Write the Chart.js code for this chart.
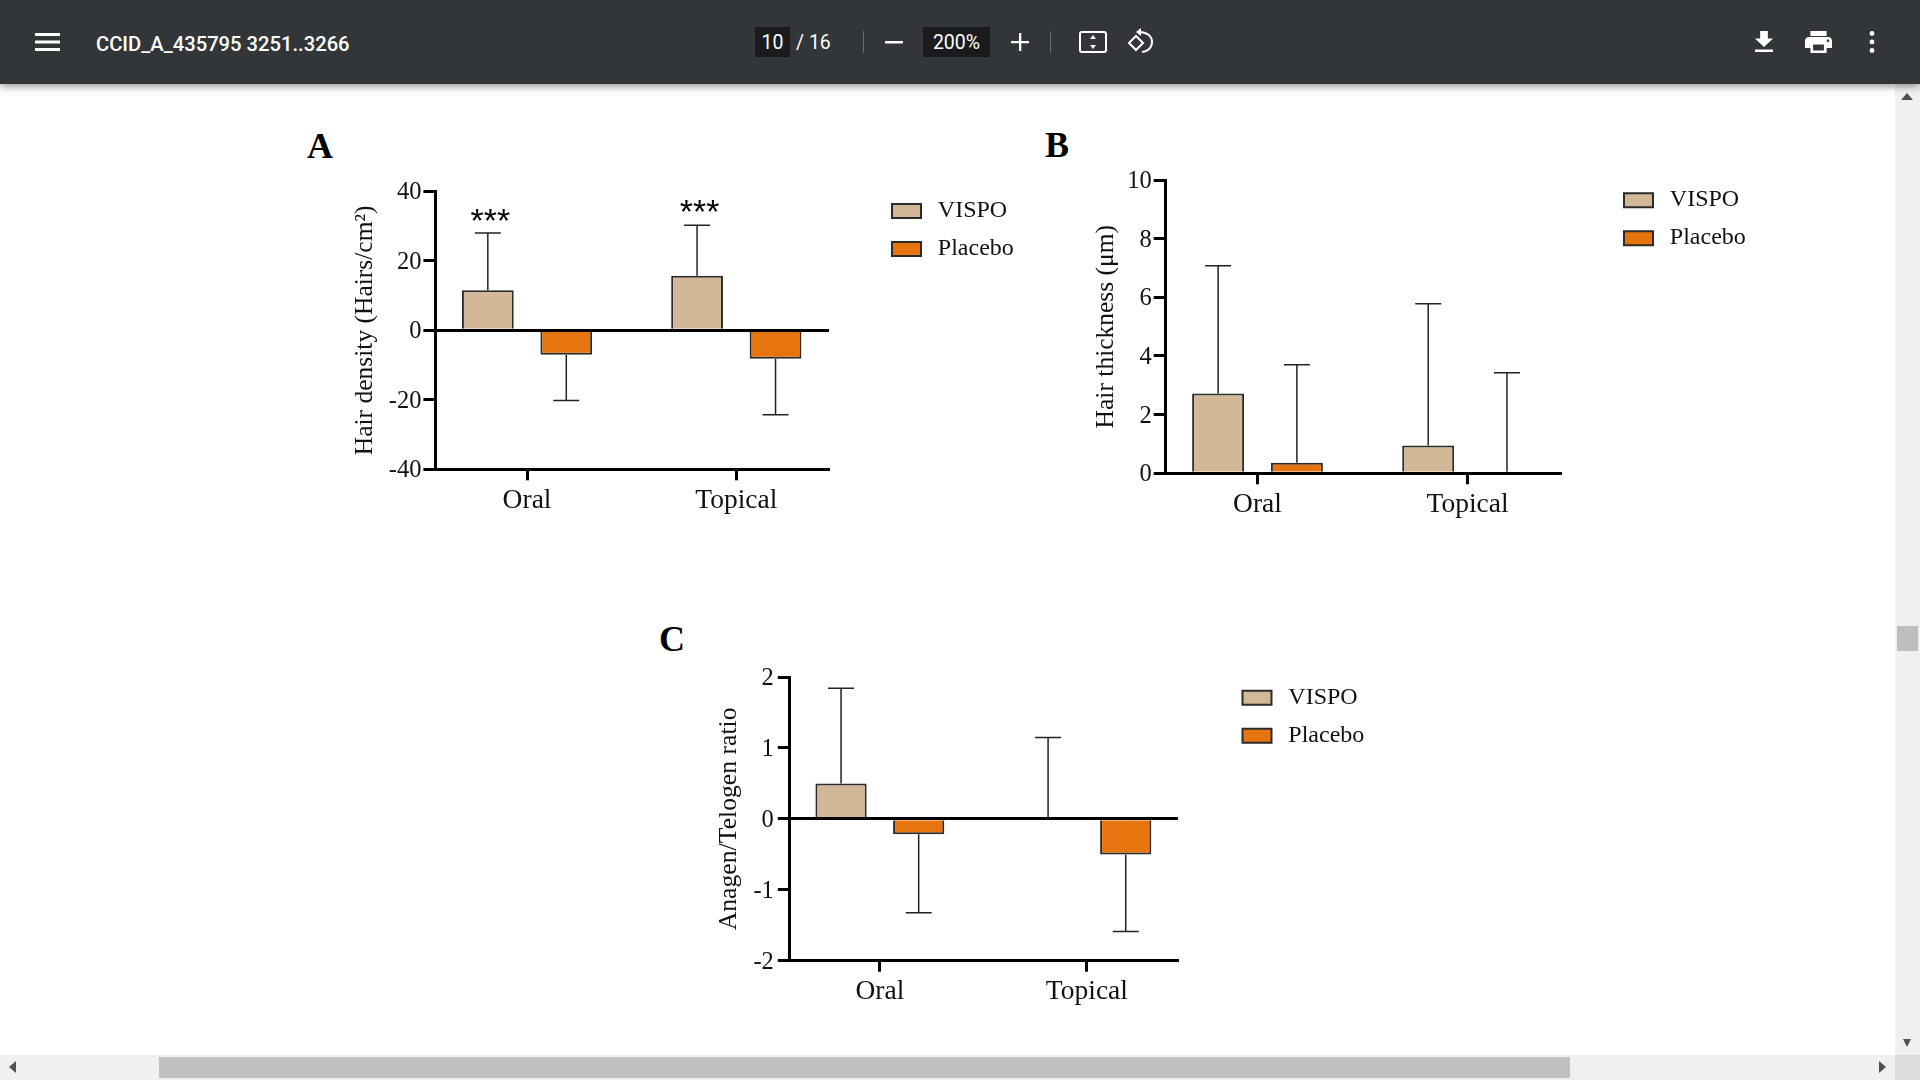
<!DOCTYPE html>
<html><head><meta charset="utf-8">
<script src="https://cdn.jsdelivr.net/npm/chart.js@4"></script>
<style>
html,body{margin:0;padding:0;width:1920px;height:1080px;overflow:hidden;background:#fff}
.abs{position:absolute}
#bar{left:0;top:0;width:1920px;height:84px;background:#323639;box-shadow:0 2px 8px rgba(0,0,0,.45);z-index:5;color:#fff;font-family:Roboto,sans-serif}
#bar div,#bar svg{position:absolute}
.box{background:#191b1c;top:27px;height:30px;line-height:31px;text-align:center;font-size:19.500px}
.sep{top:31px;width:1px;height:22px;background:#6b6e70}
.letter{font:bold 36px/36px "Liberation Serif",serif;color:#000}
canvas{position:absolute}
</style></head><body>
<div id="bar" class="abs">
  <svg style="left:35px;top:33px" width="25" height="18"><path d="M0 0h25v3H0zM0 7.500h25v3H0zM0 15h25v3H0z" fill="#fff"/></svg>
  <div style="left:96px;top:30px;font-size:20.200px;font-weight:500;line-height:28px;white-space:nowrap">CCID_A_435795 3251..3266</div>
  <div class="box" style="left:755px;width:35px">10</div>
  <div style="left:796px;top:27px;line-height:32px;font-size:19.500px;white-space:nowrap">/ 16</div>
  <div class="sep" style="left:863px"></div>
  <svg style="left:885px;top:41px" width="18" height="3"><rect width="18" height="2.500" fill="#fff"/></svg>
  <div class="box" style="left:923px;width:67px">200%</div>
  <svg style="left:1011px;top:33px" width="18" height="18"><path d="M8 0h2.300v8H18v2.300h-7.700V18H8v-7.700H0V8h8z" fill="#fff"/></svg>
  <div class="sep" style="left:1050px"></div>
  <svg style="left:1079px;top:31px" width="28" height="22" fill="none"><rect x="1" y="1" width="26" height="20" rx="2" stroke="#fff" stroke-width="2"/><path d="M14 4l-3 4h6zM14 18l-3-4h6z" fill="#fff"/></svg>
  <svg style="left:1126px;top:28px" width="29" height="26" fill="none" stroke="#fff" stroke-width="2"><path d="M10 8l-7 7 7 7 7-7z"/><path d="M13 4c8 0 13 4 13 10s-5 10-10 10"/><path d="M15 0l-5 4 5 4z" fill="#fff" stroke="none"/></svg>
  <svg style="left:1755px;top:31px" width="18" height="21" viewBox="5 3 14 17" preserveAspectRatio="none"><path d="M19 9h-4V3H9v6H5l7 7 7-7zM5 18v2h14v-2H5z" fill="#fff"/></svg>
  <svg style="left:1805px;top:31px" width="27" height="22" viewBox="2 3 20 18" preserveAspectRatio="none"><path d="M19 8H5c-1.660 0-3 1.340-3 3v6h4v4h12v-4h4v-6c0-1.660-1.340-3-3-3zm-3 11H8v-5h8v5zm3-7c-.55 0-1-.45-1-1s.45-1 1-1 1 .45 1 1-.45 1-1 1zm-1-9H6v4h12V3z" fill="#fff"/></svg>
  <svg style="left:1868px;top:30px" width="8" height="24"><circle cx="4" cy="3.500" r="2.400" fill="#fff"/><circle cx="4" cy="12" r="2.400" fill="#fff"/><circle cx="4" cy="20.500" r="2.400" fill="#fff"/></svg>
</div>

<div class="abs letter" style="left:307px;top:128px">A</div>
<div class="abs letter" style="left:1045px;top:127px">B</div>
<div class="abs letter" style="left:659px;top:621px">C</div>

<canvas id="chartA" style="left:350px;top:160px" width="680" height="370"></canvas>
<canvas id="chartB" style="left:1091px;top:150px" width="690" height="380"></canvas>
<canvas id="chartC" style="left:714px;top:650px" width="680" height="370"></canvas>

<!-- scrollbars -->
<div class="abs" style="left:1895px;top:84px;width:25px;height:971px;background:#f0f0f0"></div>
<div class="abs" style="left:1897px;top:626px;width:21px;height:25px;background:#bebebe"></div>
<svg class="abs" style="left:1901px;top:93px" width="12" height="7"><path d="M6 0l6 7H0z" fill="#505050"/></svg>
<svg class="abs" style="left:1903px;top:1039px" width="8" height="8"><path d="M0 0h8L4 8z" fill="#505050"/></svg>
<div class="abs" style="left:0;top:1055px;width:1895px;height:25px;background:#f0f0f0"></div>
<div class="abs" style="left:1895px;top:1055px;width:25px;height:25px;background:#dcdcdc"></div>
<div class="abs" style="left:159px;top:1057px;width:1411px;height:21px;background:#c0c0c0"></div>
<svg class="abs" style="left:9px;top:1061px" width="7" height="12"><path d="M7 0v12L0 6z" fill="#505050"/></svg>
<svg class="abs" style="left:1879px;top:1061px" width="7" height="12"><path d="M0 0v12l7-6z" fill="#505050"/></svg>

<script>
const categories = ['Oral', 'Topical'];
const seriesNames = ['VISPO', 'Placebo'];
const seriesColors = ['#d2b896', '#e67510'];

const densityVispo = [11.5, 15.7];
const densityPlacebo = [-7.0, -8.2];
const densityVispoErr = [28.0, 30.2];
const densityPlaceboErr = [-20.2, -24.3];
const densityStars = ['***', '***'];
const densityStarY = [32.8, 35.3];
const densityTicks = [-40, -20, 0, 20, 40];

const thicknessVispo = [2.72, 0.95];
const thicknessPlacebo = [0.36, 0.05];
const thicknessVispoErr = [7.08, 5.78];
const thicknessPlaceboErr = [3.70, 3.43];
const thicknessTicks = [0, 2, 4, 6, 8, 10];

const ratioVispo = [0.50, 0];
const ratioPlacebo = [-0.216, -0.503];
const ratioVispoErr = [1.84, 1.147];
const ratioPlaceboErr = [-1.325, -1.589];
const ratioTicks = [-2, -1, 0, 1, 2];

const SERIF = '"Liberation Serif", serif';

const errorBars = {
  id: 'errorBars',
  afterDatasetsDraw(chart, args, opts) {
    const { ctx, scales: { y } } = chart;
    ctx.save();
    ctx.strokeStyle = '#222';
    ctx.lineWidth = 1.5;
    chart.data.datasets.forEach((ds, d) => {
      chart.getDatasetMeta(d).data.forEach((bar, i) => {
        const y0 = y.getPixelForValue(ds.data[i].y);
        const y1 = y.getPixelForValue(ds.errors[i]);
        ctx.beginPath();
        ctx.moveTo(bar.x, y0); ctx.lineTo(bar.x, y1);
        ctx.moveTo(bar.x - 13, y1); ctx.lineTo(bar.x + 13, y1);
        ctx.stroke();
      });
    });
    ctx.restore();
  }
};

const stars = {
  id: 'stars',
  afterDatasetsDraw(chart, args, opts) {
    if (!opts.labels) return;
    const { ctx, scales: { y } } = chart;
    ctx.save();
    ctx.fillStyle = '#000';
    ctx.font = '34px "Liberation Sans", sans-serif';
    ctx.textAlign = 'center';
    ctx.textBaseline = 'middle';
    chart.getDatasetMeta(0).data.forEach((bar, i) => {
      ctx.fillText(opts.labels[i], bar.x + 2.5, y.getPixelForValue(opts.values[i]) + 6);
    });
    ctx.restore();
  }
};

const placeLegend = {
  id: 'placeLegend',
  afterLayout(chart, args, opts) {
    const l = chart.legend;
    l.left = opts.x - l.options.labels.padding;
    l.right = chart.width;
    l.top = opts.y - l.options.labels.padding;
    l.bottom = chart.height;
    l.width = l.right - l.left;
    l.height = l.bottom - l.top;
  }
};

function makeChart(id, cfg) {
  const el = document.getElementById(id);
  new Chart(el, {
    type: 'bar',
    plugins: [errorBars, stars, placeLegend],
    data: {
      datasets: cfg.values.map((vals, s) => ({
        label: seriesNames[s],
        data: vals.map((v, i) => ({ x: i, y: v })),
        errors: cfg.errors[s],
        backgroundColor: seriesColors[s],
        borderColor: '#2b2b2b',
        borderWidth: 2,
        borderSkipped: 'start',
        categoryPercentage: 0.75,
        barPercentage: 0.66
      }))
    },
    options: {
      responsive: false,
      animation: false,
      layout: { autoPadding: false, padding: cfg.padding },
      plugins: {
        tooltip: { enabled: false },
        stars: cfg.stars || {},
        placeLegend: cfg.legendAt,
        legend: {
          position: 'chartArea',
          align: 'start',
          labels: {
            color: '#111',
            font: { family: SERIF, size: 24 },
            boxWidth: 29, boxHeight: 14, padding: 14,
            generateLabels(chart) {
              return Chart.defaults.plugins.legend.labels.generateLabels(chart)
                .map(it => ({ ...it, text: '\u2009' + it.text, lineWidth: 2 }));
            }
          }
        }
      },
      scales: {
        x: {
          type: 'linear',
          offset: false,
          min: cfg.xMin, max: cfg.xMax,
          afterBuildTicks(s) { s.ticks = categories.map((c, i) => ({ value: i })); },
          afterFit(s) { s.height = cfg.xHeight; },
          ticks: {
            callback: (v) => categories[v],
            color: '#111', padding: 3.5, maxRotation: 0, autoSkip: false,
            font: { family: SERIF, size: 27.5 }
          },
          grid: { offset: false, drawOnChartArea: false, tickColor: '#000', tickWidth: 3, tickLength: 11 },
          border: { color: '#000', width: 3, z: 1 }
        },
        y: {
          min: cfg.ticks[0], max: cfg.ticks[cfg.ticks.length - 1],
          afterBuildTicks(s) { s.ticks = cfg.ticks.map(v => ({ value: v })); },
          afterFit(s) { s.width = cfg.yWidth; },
          ticks: { color: '#111', padding: cfg.tickPad, labelOffset: 1.5, font: { family: SERIF, size: 24.5 } },
          title: {
            display: true, text: cfg.title, color: '#111',
            padding: 0, font: { family: SERIF, size: cfg.titleSize }
          },
          grid: {
            z: 1,
            color: c => (c.tick && c.tick.value === 0) ? '#000' : 'rgba(0,0,0,0)',
            lineWidth: 3, tickColor: '#000', tickWidth: 3, tickLength: 12
          },
          border: { color: '#000', width: 3, z: 1 }
        }
      }
    }
  });
}

makeChart('chartA', {
  title: 'Hair density (Hairs/cm\u00B2)', titleSize: 25.5, tickPad: 2,
  values: [densityVispo, densityPlacebo],
  errors: [densityVispoErr, densityPlaceboErr],
  ticks: densityTicks,
  stars: { labels: densityStars, values: densityStarY },
  xMin: -0.438, xMax: 1.443,
  yWidth: 85.4, xHeight: 60.7,
  padding: { left: 0, right: 201, top: 31.3, bottom: 0 },
  legendAt: { x: 542, y: 39 }
});
makeChart('chartB', {
  title: 'Hair thickness (\u03BCm)', titleSize: 25.5, tickPad: 2,
  values: [thicknessVispo, thicknessPlacebo],
  errors: [thicknessVispoErr, thicknessPlaceboErr],
  ticks: thicknessTicks,
  xMin: -0.437, xMax: 1.448,
  yWidth: 74.7, xHeight: 56.7,
  padding: { left: 0, right: 219.3, top: 30, bottom: 0 },
  legendAt: { x: 533, y: 38.2 }
});
makeChart('chartC', {
  title: 'Anagen/Telogen ratio', titleSize: 25.7, tickPad: 4,
  values: [ratioVispo, ratioPlacebo],
  errors: [ratioVispoErr, ratioPlaceboErr],
  ticks: ratioTicks,
  xMin: -0.435, xMax: 1.44,
  yWidth: 75.8, xHeight: 59.3,
  padding: { left: 0, right: 216, top: 27, bottom: 0 },
  legendAt: { x: 528.5, y: 35.7 }
});
</script>
</body></html>
